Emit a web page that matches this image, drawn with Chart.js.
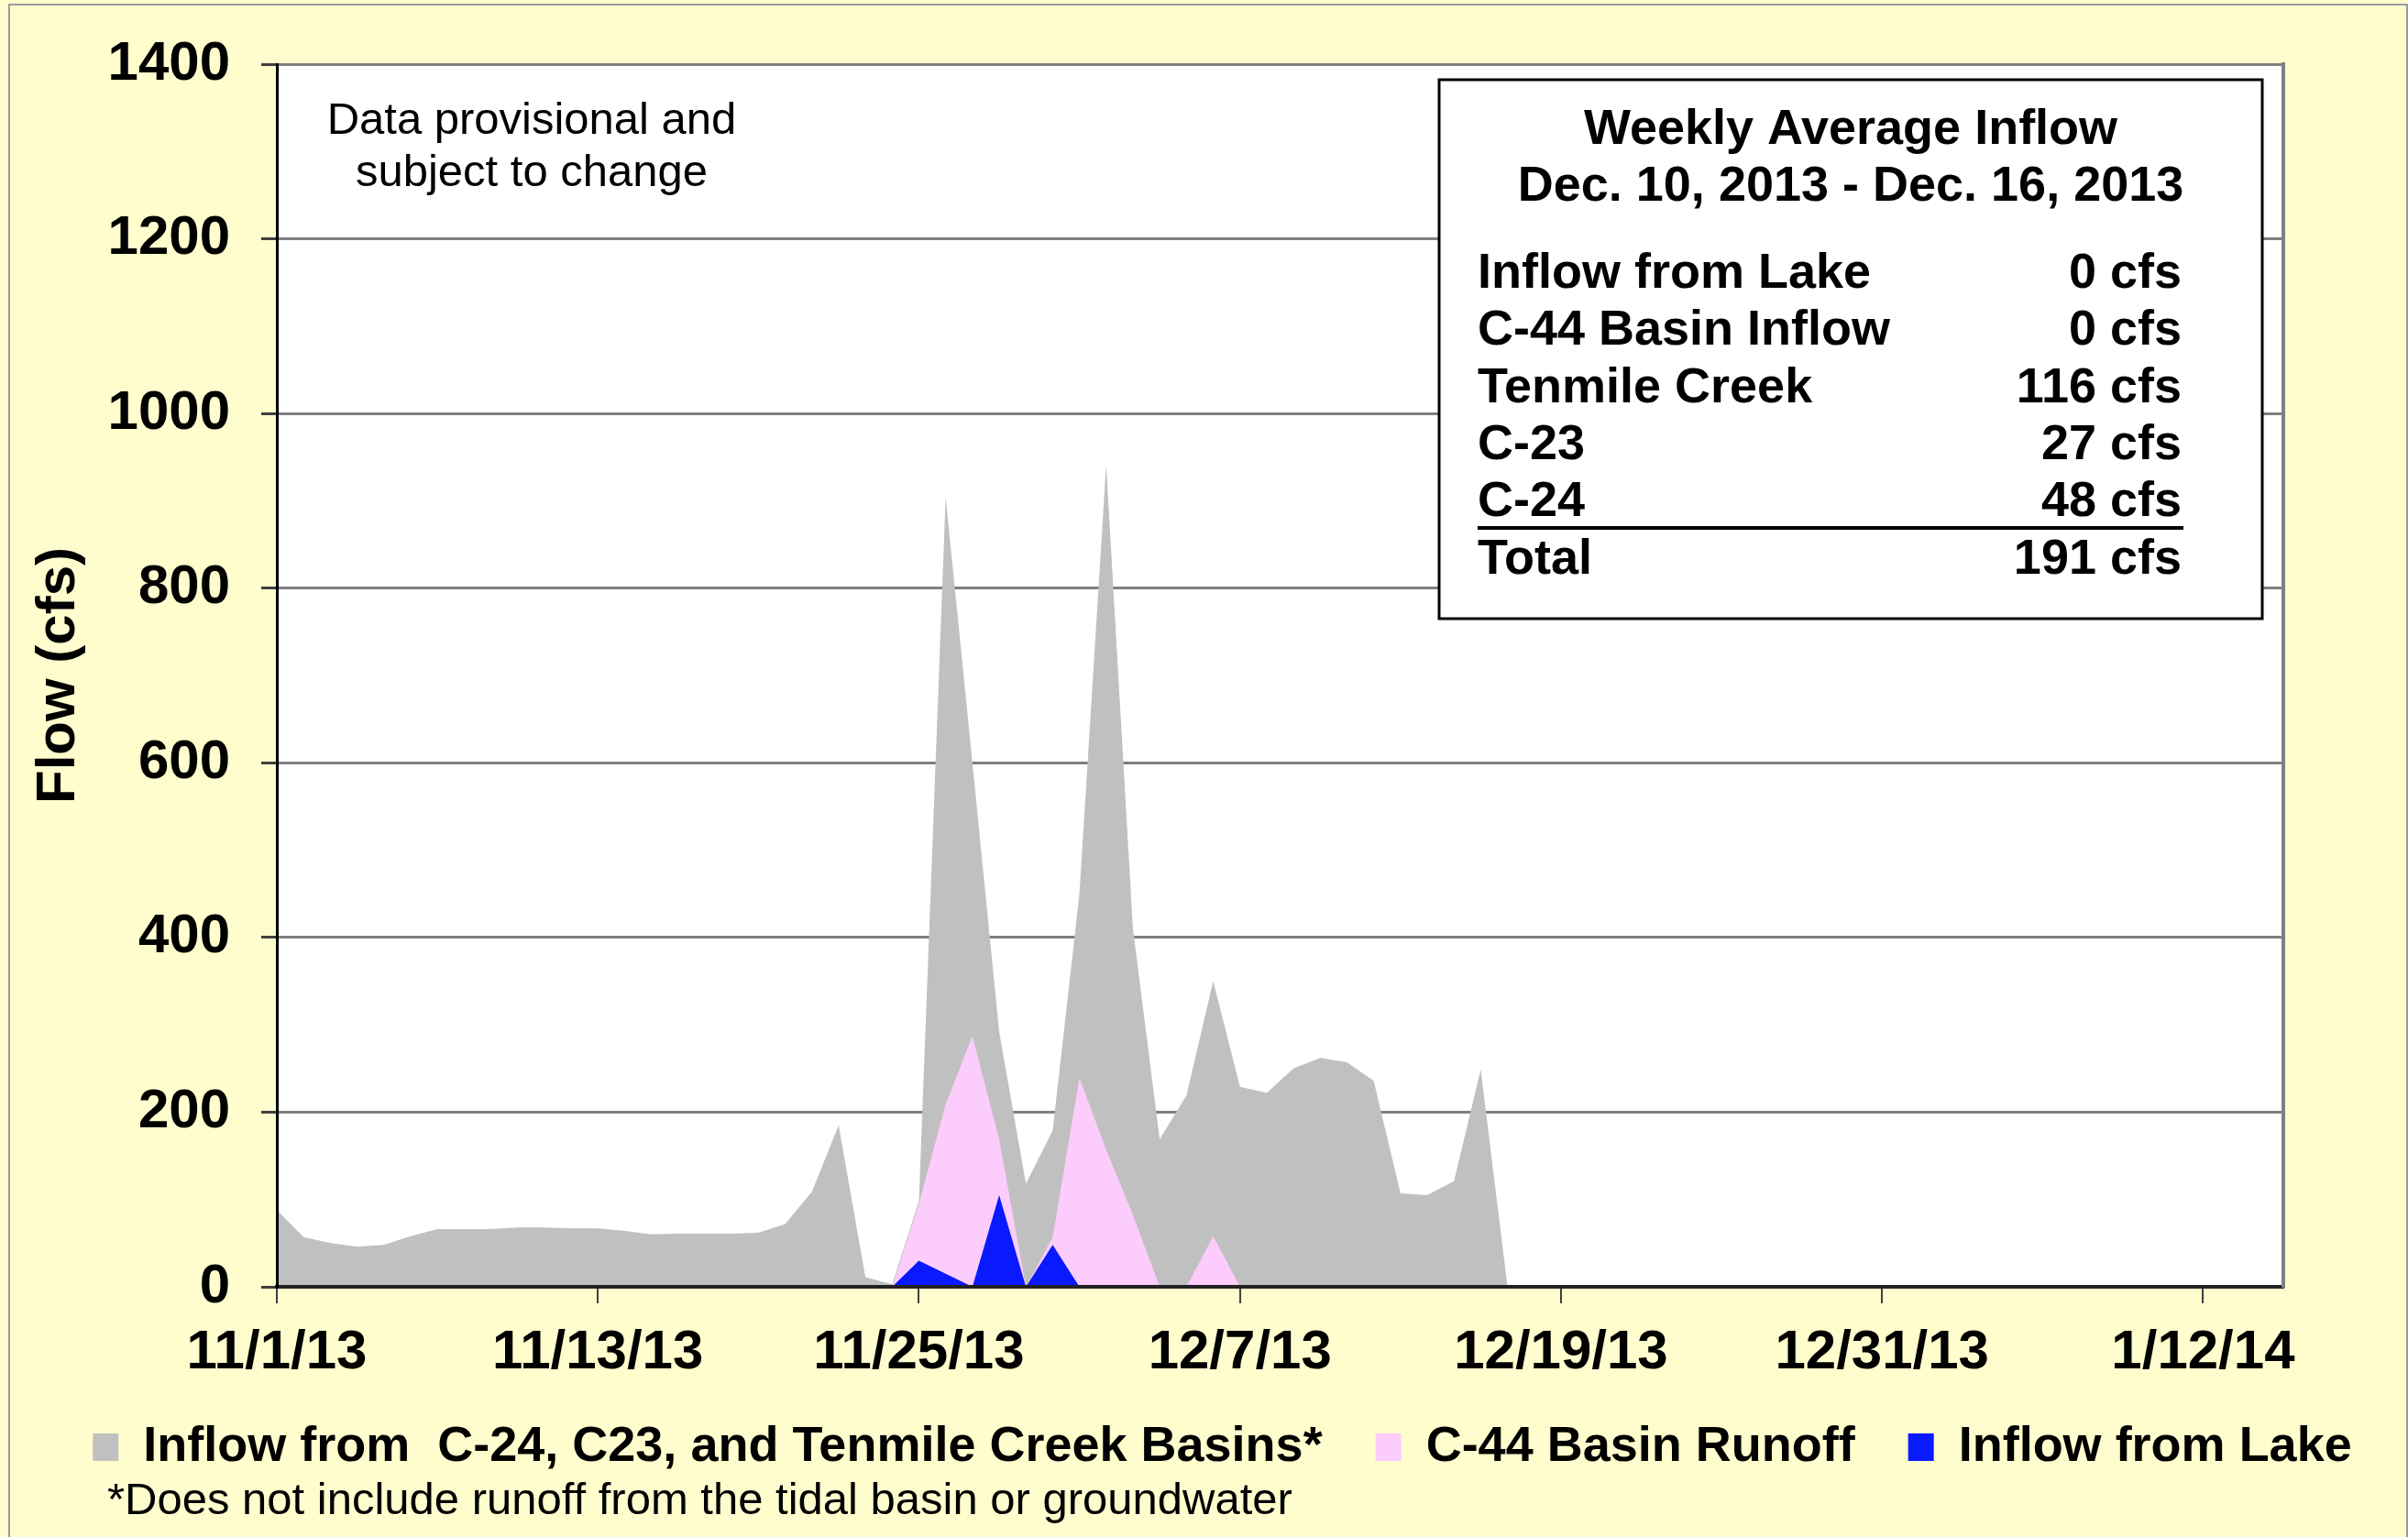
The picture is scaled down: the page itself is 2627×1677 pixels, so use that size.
<!DOCTYPE html>
<html>
<head>
<meta charset="utf-8">
<title>Weekly Average Inflow</title>
<script src="https://cdn.jsdelivr.net/npm/chart.js@4.4.1/dist/chart.umd.min.js"></script>
<style>
  html, body { margin: 0; padding: 0; background: #fffdcd; overflow: hidden; }
  #frame { position: absolute; left: 9px; top: 4px; width: 2614px; height: 1700px; border: 2px solid #9c9c9c; }
  #wrap { position: absolute; left: 0; top: 0; width: 2627px; height: 1677px; }
</style>
</head>
<body>
<div id="frame"></div>
<div id="wrap"><canvas id="flowChart" width="2627" height="1677"></canvas></div>
<script>
// Daily flows in cfs, one value per day starting 11/1/13
const basinInflow = [88, 57, 50, 46, 48, 58, 66, 66, 66, 68, 68, 67, 67, 64, 60, 61, 61, 61, 62, 72,
  109, 185, 11, 3, 98, 904, 600, 292, 118, 179, 450, 941, 410, 169, 219, 350, 229, 222, 250, 262,
  257, 236, 107, 105, 121, 249, 0];
const c44Runoff = [0, 0, 0, 0, 0, 0, 0, 0, 0, 0, 0, 0, 0, 0, 0, 0, 0, 0, 0, 0,
  0, 0, 0, 0, 95, 209, 287, 169, 0, 57, 239, 157, 82, 0, 0, 58, 0, 0, 0, 0,
  0, 0, 0, 0, 0, 0, 0];
const lakeInflow = [0, 0, 0, 0, 0, 0, 0, 0, 0, 0, 0, 0, 0, 0, 0, 0, 0, 0, 0, 0,
  0, 0, 0, 0, 30, 15, 0, 105, 0, 48, 0, 0, 0, 0, 0, 0, 0, 0, 0, 0,
  0, 0, 0, 0, 0, 0, 0];

// x axis: days since 11/1/13, a label every 12 days
const tickLabels = ['11/1/13', '11/13/13', '11/25/13', '12/7/13', '12/19/13', '12/31/13', '1/12/14'];
const yTicks = [0, 200, 400, 600, 800, 1000, 1200, 1400];

// summary box text
const summaryTitle = ['Weekly Average Inflow', 'Dec. 10, 2013 - Dec. 16, 2013'];
const summaryRows = [
  ['Inflow from Lake', '0 cfs'],
  ['C-44 Basin Inflow', '0 cfs'],
  ['Tenmile Creek', '116 cfs'],
  ['C-23', '27 cfs'],
  ['C-24', '48 cfs'],
  ['Total', '191 cfs']
];

const FONT = "'Liberation Sans', Arial, sans-serif";
Chart.defaults.font.family = FONT;
Chart.defaults.color = '#000';

const toPoints = arr => arr.map((v, i) => ({ x: i, y: v }));

// white plot area + notes + summary box
const chartDecor = {
  id: 'chartDecor',
  beforeDraw(chart) {
    const { ctx, chartArea: a } = chart;
    ctx.save();
    ctx.fillStyle = '#fff';
    ctx.fillRect(a.left, a.top, a.right - a.left, a.bottom - a.top);
    ctx.restore();
  },
  afterDraw(chart) {
    const { ctx, chartArea: a } = chart;
    ctx.save();
    ctx.fillStyle = '#000';
    ctx.textBaseline = 'middle';

    // provisional note
    ctx.textAlign = 'center';
    ctx.font = '49px ' + FONT;
    ctx.fillText('Data provisional and', a.left + 278, a.top + 62);
    ctx.fillText('subject to change', a.left + 278, a.top + 119);

    // summary box
    const bx = a.right - 921, by = a.top + 17, bw = 898, bh = 588;
    ctx.fillStyle = '#fff';
    ctx.fillRect(bx, by, bw, bh);
    ctx.lineWidth = 3;
    ctx.strokeStyle = '#000';
    ctx.strokeRect(bx, by, bw, bh);

    ctx.fillStyle = '#000';
    ctx.font = 'bold 54px ' + FONT;
    ctx.fillText(summaryTitle[0], bx + bw / 2, by + 55);
    ctx.fillText(summaryTitle[1], bx + bw / 2, by + 117);

    summaryRows.forEach((row, i) => {
      const y = by + 212 + i * 62.4;
      ctx.textAlign = 'left';
      ctx.fillText(row[0], bx + 42, y);
      ctx.textAlign = 'right';
      ctx.fillText(row[1], bx + 810, y);
    });
    ctx.lineWidth = 4;
    ctx.beginPath();
    ctx.moveTo(bx + 42, by + 489);
    ctx.lineTo(bx + 812, by + 489);
    ctx.stroke();

    // footnote under the legend
    ctx.textAlign = 'left';
    ctx.font = '49px ' + FONT;
    ctx.fillText('*Does not include runoff from the tidal basin or groundwater', 117, chart.height - 39);
    ctx.restore();
  }
};

const ctx = document.getElementById('flowChart').getContext('2d');
new Chart(ctx, {
  type: 'line',
  data: {
    datasets: [
      {
        label: 'Inflow from  C-24, C23, and Tenmile Creek Basins*',
        data: toPoints(basinInflow),
        backgroundColor: '#c0c0c0',
        borderColor: '#c0c0c0',
        borderWidth: 0,
        fill: 'origin',
        order: 3
      },
      {
        label: 'C-44 Basin Runoff',
        data: toPoints(c44Runoff),
        backgroundColor: '#fcccfc',
        borderColor: '#fcccfc',
        borderWidth: 0,
        fill: 'origin',
        order: 2
      },
      {
        label: 'Inflow from Lake',
        data: toPoints(lakeInflow),
        backgroundColor: '#0a1aff',
        borderColor: '#0a1aff',
        borderWidth: 0,
        fill: 'origin',
        order: 1
      }
    ]
  },
  options: {
    responsive: false,
    devicePixelRatio: 1,
    animation: false,
    elements: { point: { radius: 0 }, line: { tension: 0 } },
    layout: { padding: { top: 70, left: 40, right: 0, bottom: 61 } },
    scales: {
      x: {
        type: 'linear',
        min: 0,
        max: 75,
        afterFit: s => { s.height = 90; },
        grid: { drawOnChartArea: false, tickLength: 18, color: '#404040', lineWidth: 2 },
        border: { color: '#222', width: 4, z: 1 },
        ticks: {
          stepSize: 12,
          includeBounds: false,
          autoSkip: false,
          maxRotation: 0,
          padding: 18,
          font: { size: 60, weight: 'bold' },
          callback: v => tickLabels[v / 12] ?? ''
        }
      },
      y: {
        min: 0,
        max: 1400,
        afterFit: s => { s.width = 262; },
        afterBuildTicks: s => { s.ticks = yTicks.map(v => ({ value: v })); },
        grid: { color: '#7f7f7f', lineWidth: 3, tickLength: 17, tickColor: '#404040' },
        border: { color: '#000', width: 3, z: 1 },
        ticks: { padding: 34, font: { size: 60, weight: 'bold' }, callback: v => String(v) },
        title: {
          display: true,
          text: 'Flow (cfs)',
          padding: { top: 6, bottom: 0 },
          font: { size: 60, weight: 'bold', lineHeight: 0.6 }
        }
      },
      yRight: {
        position: 'right',
        display: true,
        afterFit: s => { s.width = 136; },
        grid: { display: false, drawTicks: false },
        border: { color: '#808080', width: 4, z: 1 },
        ticks: { display: false }
      }
    },
    plugins: {
      legend: {
        position: 'bottom',
        labels: {
          boxWidth: 28,
          boxHeight: 30,
          padding: 58,
          font: { size: 54, weight: 'bold' },
          sort: (a, b) => a.datasetIndex - b.datasetIndex
        }
      },
      tooltip: { enabled: false }
    }
  },
  plugins: [chartDecor]
});
</script>
</body>
</html>
